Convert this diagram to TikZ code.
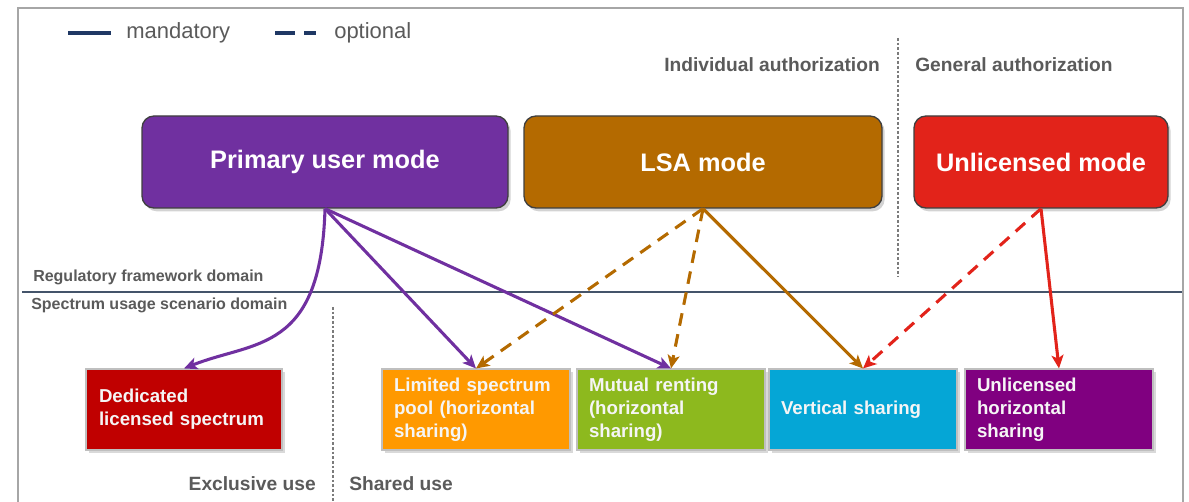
\documentclass[tikz,border=0pt]{standalone}
\usepackage{fontspec}
\setmainfont{Liberation Sans}
\usetikzlibrary{arrows.meta,shadows}

\definecolor{cPrim}{HTML}{7030A0}
\definecolor{cLSA}{HTML}{B46A00}
\definecolor{cUnl}{HTML}{E2231A}
\definecolor{cDed}{HTML}{C00000}
\definecolor{cLim}{HTML}{FF9900}
\definecolor{cMut}{HTML}{8DB91E}
\definecolor{cVer}{HTML}{05A6D6}
\definecolor{cUho}{HTML}{800080}
\definecolor{navy}{HTML}{1F3864}
\definecolor{slate}{HTML}{44546A}
\definecolor{labtxt}{HTML}{5A5A5A}
\definecolor{frame}{HTML}{A6A6A6}
\definecolor{boxedge}{HTML}{3F3F3F}
\definecolor{scenedge}{HTML}{BFBFBF}

\tikzset{
  modebox/.style={rounded corners=9pt, draw=boxedge, line width=1pt,
    text=white, font=\bfseries\fontsize{19}{22}\selectfont,
    minimum height=69pt, inner sep=0pt,
    drop shadow={shadow xshift=2pt, shadow yshift=-2.5pt, opacity=0.35}},
  scenbox/.style={draw=scenedge, line width=0.8pt, text=white!96!black,
    font=\bfseries\fontsize{14}{17.25}\selectfont, align=left,
    minimum height=60.75pt, inner xsep=9pt, inner ysep=0pt, text width=123pt,
    drop shadow={shadow xshift=2pt, shadow yshift=-2.5pt, opacity=0.3}},
  graylabel/.style={text=labtxt, inner sep=0pt, font=\bfseries\fontsize{14.4}{17}\selectfont},
  domlabel/.style={text=labtxt, inner sep=0pt, font=\bfseries\fontsize{12}{14}\selectfont},
  legendtext/.style={text=labtxt, inner sep=0pt, font=\fontsize{16.5}{19}\selectfont},
  link/.style={line width=2.3pt, -{Stealth[length=10pt, width=9pt, inset=2.5pt]}},
  optlink/.style={link, dash pattern=on 9.5pt off 6.5pt},
  divider/.style={draw=labtxt!80, line width=0.8pt, dash pattern=on 2pt off 1.5pt},
}

\begin{document}
\begin{tikzpicture}[x=0.75pt, y=-0.75pt]
\useasboundingbox (0,0) rectangle (1189,502);

% outer frame
\draw[frame, line width=1.1pt] (18,510) -- (18,8) -- (1183,8) -- (1183,510);

% legend
\coordinate (ms) at (68,33);
\coordinate (me) at (111,33);
\draw[navy, line width=2.6pt] (ms) -- (me);
\node[legendtext, anchor=west] (mand) at (126,33) {mandatory};
\coordinate (os) at (275,33);
\coordinate (oe) at (316,33);
\draw[navy, line width=2.6pt, dash pattern=on 15pt off 7pt] (os) -- (oe);
\node[legendtext, anchor=west] (opt) at (334,33) {optional};

% authorization headings and divider
\node[graylabel, anchor=east] (indiv) at (880,65) {Individual authorization};
\node[graylabel, anchor=west] (gener) at (915,65) {General authorization};
\coordinate (dvt) at (898,38);
\coordinate (dvb) at (898,277);
\draw[divider] (dvt) -- (dvb);

% domain separator
\coordinate (hl) at (22,292);
\coordinate (hr) at (1182,292);
\draw[slate, line width=1.2pt] (hl) -- (hr);
\node[domlabel, anchor=west] (reg) at (33,277) {Regulatory framework domain};
\node[domlabel, anchor=west] (spec) at (31,305) {Spectrum usage scenario domain};

% exclusive / shared divider
\coordinate (evt) at (333,307);
\coordinate (evb) at (333,505);
\draw[divider] (evt) -- (evb);
\node[graylabel, anchor=east] (excl) at (316,484) {Exclusive use};
\node[graylabel, anchor=west] (shar) at (349,484) {Shared use};

% regulatory modes
\node[modebox, fill=cPrim, minimum width=274.5pt] (pri) at (325,162) {Primary user mode};
\node[modebox, fill=cLSA, minimum width=268.5pt] (lsa) at (703,162) {LSA mode};
\node[modebox, fill=cUnl, minimum width=190.5pt] (unl) at (1041,162) {Unlicensed mode};

% usage scenarios
\node[scenbox, fill=cDed, text width=127.5pt, inner xsep=9.75pt] (ded) at (184,409.5) {Dedicated\\licensed spectrum};
\node[scenbox, fill=cLim] (lim) at (476,409.5) {Limited spectrum\\pool (horizontal\\sharing)};
\node[scenbox, fill=cMut] (mut) at (671,409.5) {Mutual renting\\(horizontal\\sharing)};
\node[scenbox, fill=cVer] (ver) at (863,409.5) {Vertical sharing};
\node[scenbox, fill=cUho] (uho) at (1059,409.5) {Unlicensed\\horizontal\\sharing};

% links from modes to scenarios
\draw[link, cPrim] (pri.south) .. controls +(-4,145) and +(70,-28) .. (ded.north);
\draw[link, cPrim] (pri.south) -- (lim.north);
\draw[link, cPrim] (pri.south) -- (mut.north);
\draw[optlink, cLSA] (lsa.south) -- (lim.north);
\draw[optlink, cLSA] (lsa.south) -- (mut.north);
\draw[link, cLSA] (lsa.south) -- (ver.north);
\draw[optlink, cUnl] (unl.south) -- (ver.north);
\draw[link, cUnl] (unl.south) -- (uho.north);
\end{tikzpicture}
\end{document}
